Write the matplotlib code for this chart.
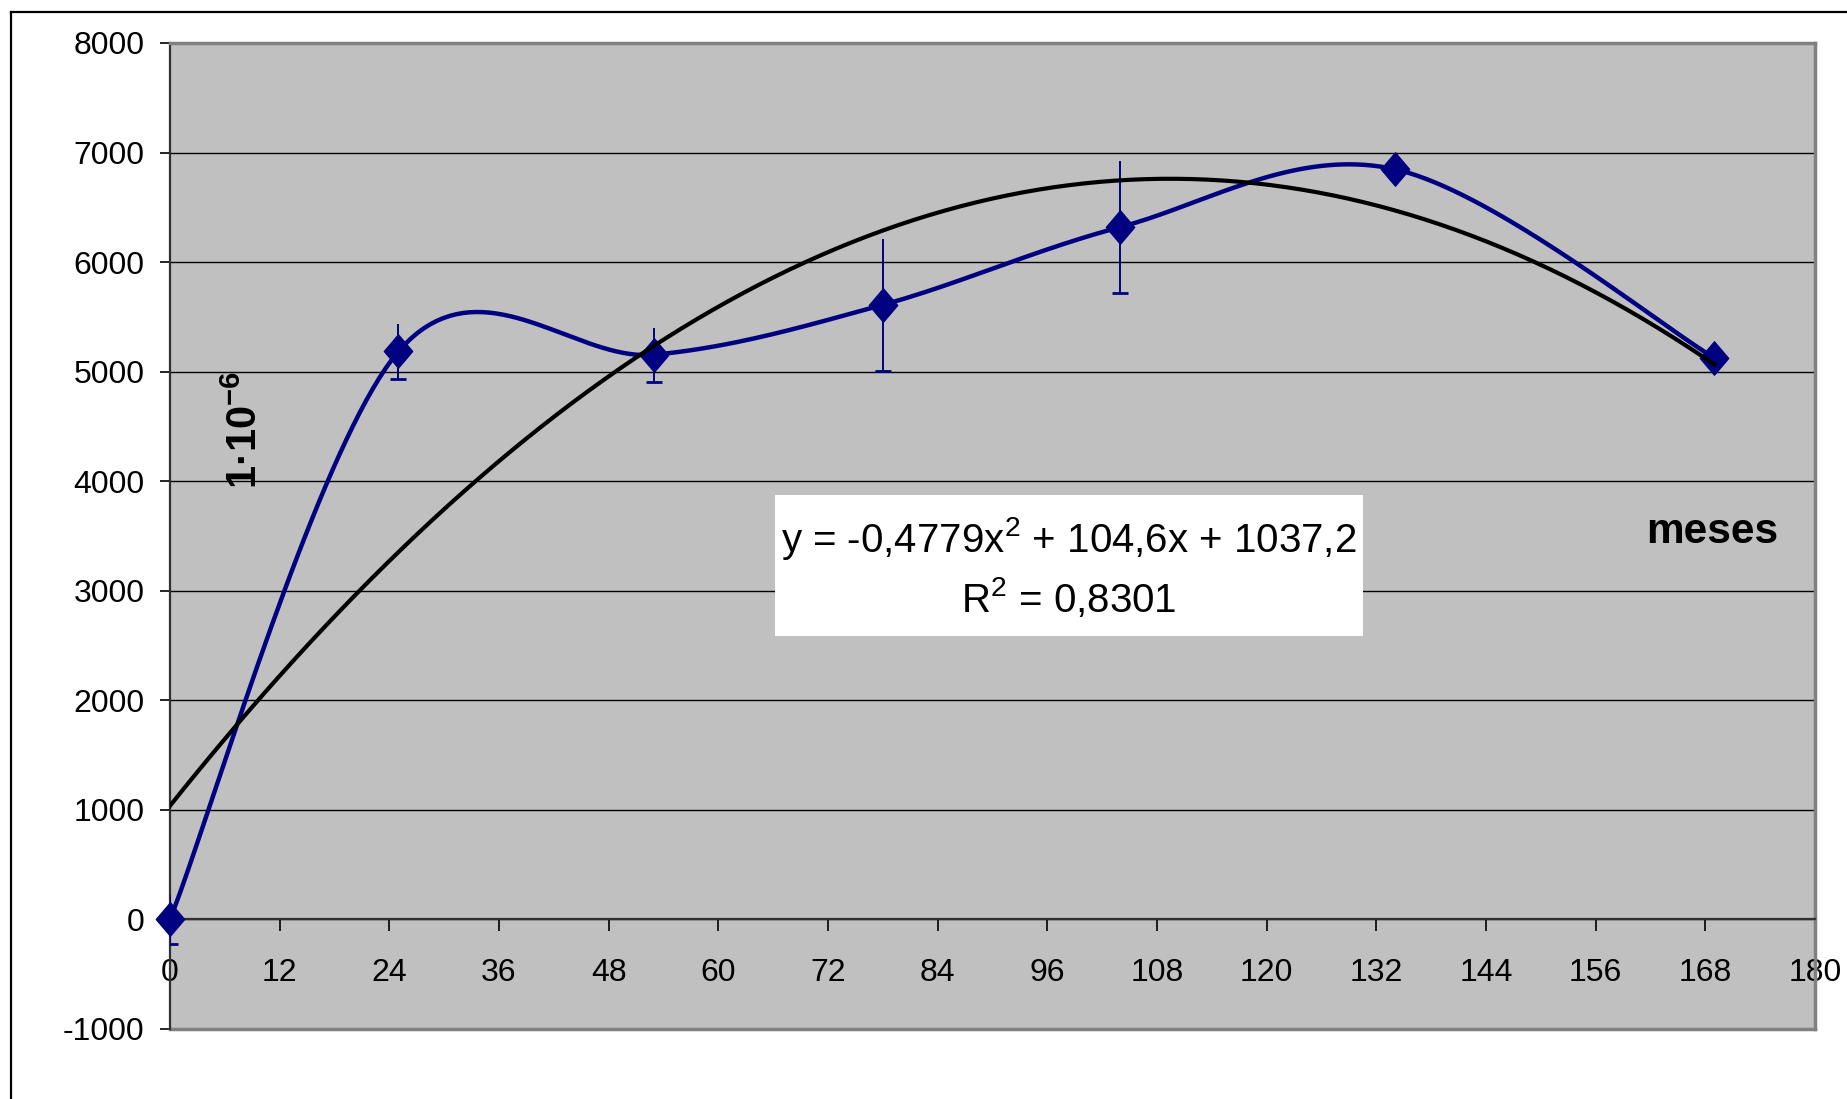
import numpy as np
import matplotlib.pyplot as plt
from matplotlib.path import Path
from matplotlib.lines import Line2D
from matplotlib.patches import Rectangle

plt.rcParams['font.family'] = ['Liberation Sans', 'DejaVu Sans']
plt.rcParams['mathtext.fontset'] = 'custom'
plt.rcParams['mathtext.rm'] = 'Liberation Sans'
plt.rcParams['mathtext.it'] = 'Liberation Sans:italic'
plt.rcParams['mathtext.bf'] = 'Liberation Sans:bold'
plt.rcParams['axes.unicode_minus'] = False

# measured points (months, value) and error half-widths
months = [0, 25, 53, 78, 104, 134, 169]
values = [0, 5185, 5155, 5610, 6320, 6848, 5125]
errors = [220, 250, 245, 600, 600, 0, 0]

# quadratic trend line coefficients (as given in the chart)
coef_a = -0.4779
coef_b = 104.6
coef_c = 1037.2

x_ticks = list(range(0, 181, 12))
y_ticks = list(range(-1000, 8001, 1000))

navy = '#000080'


# Excel-like smoothed line: cubic bezier through the points
def smooth_curve(xs, ys, n=40):
    pts = np.column_stack([xs, ys]).astype(float)
    out = [pts[0]]
    for i in range(len(pts) - 1):
        p0 = pts[i - 1] if i > 0 else pts[i]
        p1 = pts[i]
        p2 = pts[i + 1]
        p3 = pts[i + 2] if i + 2 < len(pts) else pts[i + 1]
        c1 = p1 + (p2 - p0) / 6.0
        c2 = p2 - (p3 - p1) / 6.0
        t = np.linspace(0, 1, n)[1:, None]
        seg = ((1 - t) ** 3) * p1 + 3 * ((1 - t) ** 2) * t * c1 + 3 * (1 - t) * t ** 2 * c2 + t ** 3 * p2
        out.extend(seg)
    out = np.array(out)
    return out[:, 0], out[:, 1]


fig = plt.figure(figsize=(18.47, 10.99), dpi=100)
W, H = 1847, 1099
L, R, T, B = 170, 1815, 43, 1029
ax = fig.add_axes([L / W, (H - B) / H, (R - L) / W, (B - T) / H])
ax.set_facecolor('#C0C0C0')

# outer chart frame
fig.add_artist(Line2D([11 / W, 1.0], [(H - 12) / H] * 2, color='black', lw=1.6))
fig.add_artist(Line2D([11 / W] * 2, [0.0, (H - 12) / H], color='black', lw=1.6))

sx, sy = smooth_curve(months, values)
ax.plot(sx, sy, color=navy, lw=3.2, zorder=3, solid_capstyle='round')

ax.errorbar(months, values, yerr=errors, fmt='none', ecolor=navy, elinewidth=1.4, capsize=0, zorder=3)
low_x = [m for m, e in zip(months, errors) if e > 0]
low_y = [v - e for v, e in zip(values, errors) if e > 0]
ax.plot(low_x, low_y, ls='none', marker='_', ms=12, mew=2.0, color=navy, zorder=3)

diamond = Path([(0, 1), (0.85, 0), (0, -1), (-0.85, 0), (0, 1)],
               [Path.MOVETO, Path.LINETO, Path.LINETO, Path.LINETO, Path.CLOSEPOLY])
ax.plot(months, values, ls='none', marker=diamond, ms=24, color=navy, mec=navy, zorder=4, clip_on=False)

tx = np.linspace(months[0], months[-1], 300)
ty = coef_a * tx ** 2 + coef_b * tx + coef_c
ax.plot(tx, ty, color='black', lw=3.0, zorder=5)

ax.set_xlim(0, 180)
ax.set_ylim(-1000, 8000)
ax.set_xticks(x_ticks)
ax.set_yticks(y_ticks)
ax.yaxis.grid(True, color='black', lw=1.0)
ax.set_axisbelow(True)

ax.spines['bottom'].set_position(('data', 0))
ax.spines['bottom'].set_color('#303030')
ax.spines['bottom'].set_linewidth(1.6)
ax.spines['left'].set_color('#303030')
ax.spines['left'].set_linewidth(1.6)
for s in ['top', 'right']:
    ax.spines[s].set_color('#808080')
    ax.spines[s].set_linewidth(2.5)
ax.axhline(-1000, color='#808080', lw=2.5, clip_on=False, zorder=2)

ax.tick_params(axis='y', direction='out', length=7.5, width=1.2, pad=11, labelsize=23)
ax.tick_params(axis='x', direction='out', length=8.5, width=1.2, pad=19, labelsize=23)

# trend equation box
box_x0, box_x1 = (775 - L) / (R - L), (1363 - L) / (R - L)
box_y0, box_y1 = (B - 636) / (B - T), (B - 495) / (B - T)
ax.add_patch(Rectangle((box_x0, box_y0), box_x1 - box_x0, box_y1 - box_y0,
                       transform=ax.transAxes, facecolor='white', edgecolor='none', zorder=6))
cx = (box_x0 + box_x1) / 2
ax.text(cx, (B - 538) / (B - T), 'y = -0,4779x$^{2}$ + 104,6x + 1037,2', transform=ax.transAxes,
        ha='center', va='center', fontsize=29, zorder=7)
ax.text(cx, (B - 598) / (B - T), 'R$^{2}$ = 0,8301', transform=ax.transAxes,
        ha='center', va='center', fontsize=29, zorder=7)

ax.text((1712 - L) / (R - L), (B - 532) / (B - T), 'meses', transform=ax.transAxes,
        ha='center', va='center', fontsize=30.5, fontweight='bold', zorder=7)
ax.text((246 - L) / (R - L), (B - 430) / (B - T), '1·10$^{\\mathbf{-6}}$', transform=ax.transAxes,
        ha='center', va='center', fontsize=30, fontweight='bold', rotation=90, zorder=7)

fig.savefig('out.png', dpi=100)
